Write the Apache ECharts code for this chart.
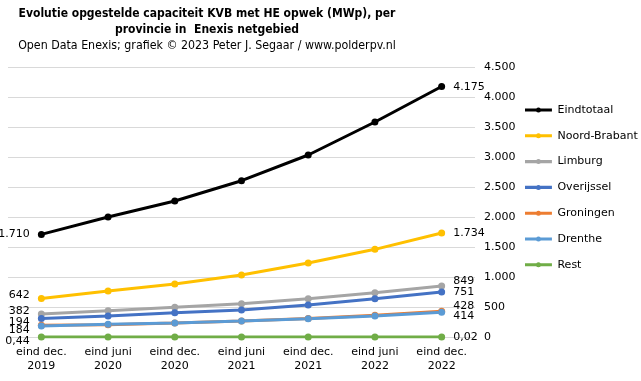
<!DOCTYPE html>
<html><head><meta charset="utf-8">
<script src="https://cdn.jsdelivr.net/npm/echarts@6/dist/echarts.min.js"></script>
<style>html,body{margin:0;padding:0;background:#fff}#c{width:641px;height:381px}</style>
</head><body><div id="c"></div>
<script>
const categories = ['eind dec.\n2019','eind juni\n2020','eind dec.\n2020','eind juni\n2021','eind dec.\n2021','eind juni\n2022','eind dec.\n2022'];
const seriesNames = ['Eindtotaal','Noord-Brabant','Limburg','Overijssel','Groningen','Drenthe','Rest'];
const eindtotaal   = [1710, 2000, 2267, 2605, 3033, 3583, 4175];
const noordBrabant = [642, 767, 883, 1033, 1233, 1461, 1734];
const limburg      = [382, 438, 494, 555, 638, 738, 849];
const overijssel   = [308, 350, 405, 450, 533, 638, 751];
const groningen    = [194, 205, 235, 268, 310, 362, 428];
const drenthe      = [184, 211, 233, 265, 303, 352, 414];
const rest         = [0.44, 0.30, 0.20, 0.10, 0.06, 0.04, 0.02];
const yTicks = {min: 0, max: 4500, interval: 500};

const values = [eindtotaal, noordBrabant, limburg, overijssel, groningen, drenthe, rest];
const colors = ['#000000','#FFC000','#A5A5A5','#4472C4','#ED7D31','#5B9BD5','#70AD47'];
const firstLbl = [[true,0],[true,-3],[true,-3],[false,0],[true,-3.5],[true,4],[true,4]];
const lastLbl = [1,0,-4.5,0,-5.5,3.5,0];

function fmt(v){
  if (v > 0 && v < 1) return v.toFixed(2).replace('.', ',');
  const s = Math.round(v).toString();
  return s.replace(/\B(?=(\d{3})+(?!\d))/g, '.');
}
const FONT = 'DejaVu Sans';
const TFONT = 'DejaVu Sans Condensed';
const legendIcon = 'path://M0,1 L28,1 L28,4.2 L0,4.2 Z M11.4,2.6 A2.6,2.6 0 1,1 16.6,2.6 A2.6,2.6 0 1,1 11.4,2.6 Z';

const series = values.map((arr, si) => ({
  name: seriesNames[si],
  type: 'line',
  data: arr.map((v, i) => {
    const item = {value: v};
    if (i === 0 && firstLbl[si][0]) {
      item.label = {show: true, position: 'left', distance: 8, offset: [0, firstLbl[si][1]]};
    } else if (i === arr.length - 1) {
      item.label = {show: true, position: 'right', distance: 8, offset: [0, lastLbl[si]]};
    }
    return item;
  }),
  symbol: 'circle',
  symbolSize: 7,
  color: colors[si],
  lineStyle: {width: 3, color: colors[si]},
  itemStyle: {color: colors[si]},
  label: {show: false, formatter: p => fmt(p.value), color: '#000', fontFamily: FONT, fontSize: 11},
  emphasis: {disabled: true},
  animation: false
}));

const chart = echarts.init(document.getElementById('c'), null, {renderer: 'canvas'});
chart.setOption({
  animation: false,
  backgroundColor: '#fff',
  title: {
    text: 'Evolutie opgestelde capaciteit KVB met HE opwek (MWp), per\nprovincie in  Enexis netgebied',
    subtext: 'Open Data Enexis; grafiek \u00a9 2023 Peter J. Segaar / www.polderpv.nl',
    left: 202, top: 1, textAlign: 'center', itemGap: 0,
    textStyle: {fontFamily: TFONT, fontSize: 12, fontWeight: 'bold', color: '#000', lineHeight: 16},
    subtextStyle: {fontFamily: TFONT, fontSize: 12.3, color: '#000', lineHeight: 16}
  },
  legend: {
    orient: 'vertical', left: 520, top: 98, itemGap: 11.8,
    itemWidth: 28, itemHeight: 5,
    data: seriesNames.map((n, i) => ({name: n, icon: legendIcon, itemStyle: {color: colors[i]}})),
    textStyle: {fontFamily: FONT, fontSize: 11, color: '#000', lineHeight: 14}
  },
  grid: {left: 8, right: 166, top: 67, bottom: 44},
  xAxis: {
    type: 'category', data: categories, boundaryGap: true,
    axisLine: {show: false}, axisTick: {show: false},
    axisLabel: {fontFamily: FONT, fontSize: 11, color: '#000', lineHeight: 14, margin: 8, interval: 0}
  },
  yAxis: {
    type: 'value', position: 'right', min: yTicks.min, max: yTicks.max, interval: yTicks.interval,
    axisLine: {show: false}, axisTick: {show: false},
    splitLine: {lineStyle: {color: '#d9d9d9', width: 1}},
    axisLabel: {fontFamily: FONT, fontSize: 11, color: '#000', margin: 9, formatter: v => fmt(v)}
  },
  series: series
});
</script></body></html>
